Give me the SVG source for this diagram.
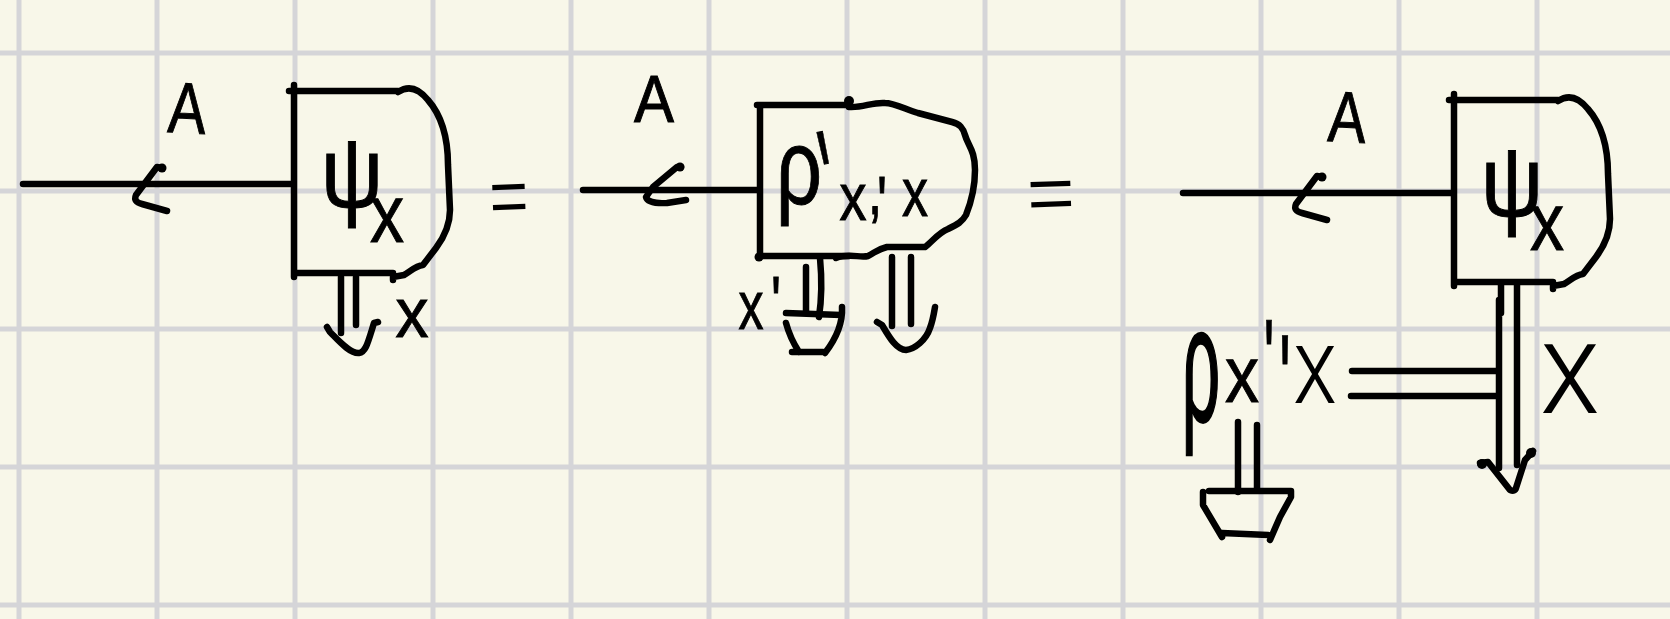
<svg xmlns="http://www.w3.org/2000/svg" xmlns:xlink="http://www.w3.org/1999/xlink" width="1670" height="619" viewBox="0 0 1670 619">
<style>
.g{stroke:#d5d5d8;stroke-width:5;fill:none}
.k{stroke:#000;stroke-width:6.5;fill:none;stroke-linecap:round;stroke-linejoin:round}
.d{fill:#000}
text{font-family:"Liberation Sans",Arial,sans-serif;fill:#000;stroke:#000;stroke-width:1;text-anchor:middle}
text.l{font-family:Roboto,"Liberation Sans",sans-serif;font-weight:300;stroke:none}
text.h{stroke-width:2.5}
</style>
<defs>
<g id="blockInk">
<path class="k" d="M23,184H293M294,85V277M289,91H398M294,273H393"/>
<path class="k" d="M398,92C410,84 420,90 428,100C442,116 448,140 448,165L450,210C450,228 442,240 436,248L423,265C415,266 410,272 404,275L393,277V280"/>
<path class="k" d="M162,168L157,167L136,195Q133,202 142,204L167,211"/>
<circle class="d" cx="162" cy="168" r="4.5"/>
</g>
</defs>
<rect width="1670" height="619" fill="#f8f7e9"/>
<g id="grid">
<path class="g" d="M19,0V619M157,0V619M295,0V619M433,0V619M571,0V619M709,0V619M847,0V619M985,0V619M1123,0V619M1261,0V619M1399,0V619M1537,0V619"/>
<path class="g" d="M0,53H1670M0,191H1670M0,329H1670M0,467H1670M0,605H1670"/>
</g>
<g id="connectors">
<use href="#blockInk"/>
<path class="k" d="M341,277V333M356,277V325"/>
<path class="k" d="M327,327L330,332C338,340 350,354 359,353C366,352 368,342 374,323L378,322"/>
<use href="#blockInk" x="1160" y="9"/>
<path class="k" d="M583,190H760M760,105V257M757,105H849M760,256H849"/>
<circle class="d" cx="849" cy="101" r="5"/>
<circle class="d" cx="759" cy="257" r="4.5"/>
<circle class="d" cx="680" cy="167" r="4.5"/>
<path class="k" d="M681,167L677,167L653,187L646,197Q648,204 667,203L686,200"/>
<path class="k" d="M849,107C863,108 872,102 885,103C894,103 905,109 918,113L952,122C960,124 963,128 965,135C968,146 975,150 975,170C975,190 970,205 966,215C962,222 958,224 948,229C938,233 932,242 925,247L887,247C875,250 875,253 868,256C860,258 849,253 836,258"/>
<path class="k" d="M806,267V313M820,258Q823,290 819,317"/>
<path class="k" d="M786,313L841,315M842,307C843,325 835,340 825,353M786,323Q790,338 799,352M792,352H823"/>
<path class="k" d="M892,257V326M911,257V324"/>
<path class="k" d="M877,322L882,325C888,335 896,350 906,350C915,349 926,340 930,328C933,320 934,313 935,307"/>
<path class="k" d="M1501,285V313M1499,300V468M1517,285V465"/>
<path class="k" d="M1480,463L1488,462L1510,490Q1515,492 1516,488L1525,460L1533,451"/>
<circle class="d" cx="1482" cy="464" r="5"/>
<circle class="d" cx="1531" cy="453" r="5"/>
<path class="k" d="M1352,371H1498M1351,396H1498"/>
<path class="k" d="M1238,422V492M1257,425V490"/>
<path class="k" d="M1209,491H1291V497L1280,517L1270,540M1203,492V505L1222,537M1222,533L1268,535"/>
</g>
<g id="figure-1">
<text transform="translate(186,133) rotate(3)" font-size="72" textLength="38" lengthAdjust="spacingAndGlyphs">A</text>
<text x="352" y="207" font-size="100" textLength="62" lengthAdjust="spacingAndGlyphs">ψ</text>
<text x="387" y="242" font-size="82" textLength="34" lengthAdjust="spacingAndGlyphs">x</text>
<text x="412" y="337" font-size="71" textLength="33" lengthAdjust="spacingAndGlyphs">x</text>
<text class="l" transform="translate(510,230) rotate(-2)" font-size="100" textLength="44" lengthAdjust="spacingAndGlyphs">=</text>
</g>
<g id="figure-2">
<text x="654" y="122" font-size="66" textLength="40" lengthAdjust="spacingAndGlyphs">A</text>
<text x="799" y="204" font-size="108" textLength="46" lengthAdjust="spacingAndGlyphs">ρ</text>
<text transform="translate(841,233) rotate(-12)" font-size="150" textLength="13" lengthAdjust="spacingAndGlyphs">'</text>
<text x="853" y="220" font-size="66" textLength="27" lengthAdjust="spacingAndGlyphs">x</text>
<text x="875" y="214" font-size="70" textLength="14" lengthAdjust="spacingAndGlyphs">,</text>
<text x="882" y="228" font-size="75" textLength="10" lengthAdjust="spacingAndGlyphs">'</text>
<text x="915" y="216" font-size="68" textLength="26" lengthAdjust="spacingAndGlyphs">x</text>
<text x="751" y="329" font-size="68" textLength="25" lengthAdjust="spacingAndGlyphs">x</text>
<text x="776" y="328" font-size="75" textLength="10" lengthAdjust="spacingAndGlyphs">'</text>
<text class="l" transform="translate(1052,227) rotate(-2)" font-size="100" textLength="54" lengthAdjust="spacingAndGlyphs">=</text>
</g>
<g id="figure-3">
<text transform="translate(1346,142) rotate(3)" font-size="72" textLength="38" lengthAdjust="spacingAndGlyphs">A</text>
<text x="1512" y="216" font-size="100" textLength="62" lengthAdjust="spacingAndGlyphs">ψ</text>
<text x="1547" y="250" font-size="82" textLength="34" lengthAdjust="spacingAndGlyphs">x</text>
<text class="h" x="1201" y="421" font-size="163" textLength="38" lengthAdjust="spacingAndGlyphs">ρ</text>
<text x="1242" y="402" font-size="80" textLength="34" lengthAdjust="spacingAndGlyphs">x</text>
<text x="1269" y="396" font-size="110" textLength="11" lengthAdjust="spacingAndGlyphs">'</text>
<text x="1285" y="425" font-size="130" textLength="12" lengthAdjust="spacingAndGlyphs">'</text>
<text class="l" x="1315" y="403" font-size="108" textLength="44" lengthAdjust="spacingAndGlyphs">x</text>
<text class="l" x="1570" y="413" font-size="130" textLength="60" lengthAdjust="spacingAndGlyphs">x</text>
</g>
</svg>
